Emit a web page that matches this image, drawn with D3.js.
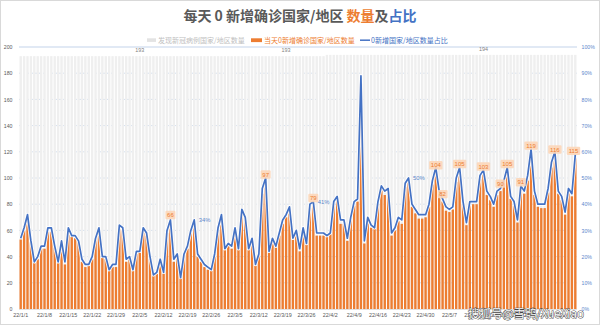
<!DOCTYPE html>
<html><head><meta charset="utf-8">
<script src="https://cdn.jsdelivr.net/npm/d3@7"></script>
<style>body{margin:0;background:#fff}svg{display:block}</style>
</head><body><svg id="c" width="600" height="325"></svg>
<script>
const startDate = "2022-01-01";
// 当天0新增确诊国家/地区数量
const counts = [53,60,70,51,35,38,46,46,59,59,47,35,51,34,59,55,54,51,36,32,
33,38,53,59,39,38,29,32,32,61,60,36,38,29,42,43,60,56,38,26,
27,36,27,58,66,36,41,24,41,46,58,65,40,36,32,30,29,40,60,70,
45,48,46,59,45,73,68,45,52,33,41,88,97,43,52,47,56,65,70,75,
53,58,44,60,49,77,79,56,56,56,55,57,80,83,65,65,52,68,79,82,
172,50,68,62,61,80,92,87,90,56,60,67,65,93,97,78,73,69,69,70,
78,95,104,88,82,75,74,76,97,105,80,64,79,80,80,99,103,87,83,78,
87,90,96,105,84,79,66,91,88,98,119,87,78,77,77,89,108,116,88,83,
72,89,86,115];
// 0新增国家/地区数量占比 (%)
const sharePct = [27,31,36,26,18,20,24,24,31,31,24,18,26,18,31,28,28,26,19,17,
17,20,27,31,20,20,15,17,17,32,31,19,20,15,22,22,31,29,20,13,
14,19,14,30,34,19,21,12,21,24,30,34,21,19,17,16,15,21,31,36,
23,25,24,31,23,38,35,23,27,17,21,46,50,22,27,24,29,34,36,39,
27,30,23,31,25,40,41,29,29,29,28,29,41,43,34,34,27,35,41,42,
89,26,35,32,31,41,47,45,46,29,31,35,34,48,50,40,38,36,36,36,
40,49,54,45,42,39,38,39,50,54,41,33,41,41,41,51,53,45,43,40,
45,46,49,54,43,41,34,47,45,51,61,45,40,40,40,46,56,60,45,43,
37,46,44,59];
// 发现新冠病例国家/地区数量
const totalCountries = [...Array(90).fill(193), ...Array(74).fill(194)];
const tickLabels = ["22/1/1","22/1/8","22/1/15","22/1/22","22/1/29","22/2/5","22/2/12","22/2/19",
"22/2/26","22/3/5","22/3/12","22/3/19","22/3/26","22/4/2","22/4/9","22/4/16","22/4/23","22/4/30",
"22/5/7","22/5/14","22/5/21","22/5/28","22/6/4","22/6/11"];
const leftTicks = [0,20,40,60,80,100,120,140,160,180,200];
const rightTicks = [0,10,20,30,40,50,60,70,80,90,100];
const countLabelIdx = [44,72,86,122,124,129,136,141,143,147,150,157,163];
const shareLabelIdx = [51,86,114];
const totalLabelIdx = [35,78,136];

const ORANGE = "#ed7d31", BLUE = "#4472c4", GRAY_TXT = "#595959";
const CJK = "'Noto Sans CJK SC','Noto Sans',sans-serif";
const NUM = "'Liberation Sans',Arial,sans-serif";

const svg = d3.select("#c");
svg.append("rect").attr("x",0.5).attr("y",0.5).attr("width",599).attr("height",324)
  .attr("fill","#fff").attr("stroke","#d9d9d9");

const parse = d3.timeParse("%Y-%m-%d");
const days = d3.range(counts.length);
const dates = days.map(i => d3.timeDay.offset(parse(startDate), i));
const fmt = d => `${d.getFullYear()%100}/${d.getMonth()+1}/${d.getDate()}`;

const x = d3.scaleBand().domain(days).range([19, 577]).paddingInner(0.3).paddingOuter(0.15);
const cx = i => x(i) + x.bandwidth()/2;
const y = d3.scaleLinear().domain([0,200]).range([309,47]);
const y2 = d3.scaleLinear().domain([0,100]).range([309,47]);

// gridlines
svg.append("g").selectAll("line").data(leftTicks.filter(t => t>0 && t<200)).join("line")
  .attr("x1",19).attr("x2",577).attr("y1",d=>y(d)).attr("y2",d=>y(d))
  .attr("stroke","#c6d5ea").attr("stroke-width",0.8).attr("stroke-dasharray","2,2");
svg.append("line").attr("x1",19).attr("x2",577).attr("y1",y(200)).attr("y2",y(200))
  .attr("stroke","#c3d3ea").attr("stroke-width",1);

// background totals bars
svg.append("g").selectAll("rect").data(days).join("rect")
  .attr("x",i=>x(i)).attr("width",x.bandwidth())
  .attr("y",i=>y(totalCountries[i])).attr("height",i=>y(0)-y(totalCountries[i]))
  .attr("fill","#efefef");

// orange bars
svg.append("g").selectAll("rect").data(days).join("rect")
  .attr("x",i=>x(i)).attr("width",x.bandwidth())
  .attr("y",i=>y(counts[i])).attr("height",i=>y(0)-y(counts[i]))
  .attr("fill",ORANGE);

svg.append("line").attr("x1",19).attr("x2",577).attr("y1",309.5).attr("y2",309.5)
  .attr("stroke","#d9d9d9").attr("stroke-width",0.8);

// share line
const line = d3.line().x(cx).y(i=>y2(sharePct[i]));
svg.append("path").datum(days).attr("d",line).attr("fill","none")
  .attr("stroke","#fff").attr("stroke-width",3.4).attr("stroke-linejoin","round").attr("opacity",0.9);
svg.append("path").datum(days).attr("d",line).attr("fill","none")
  .attr("stroke",BLUE).attr("stroke-width",1.7).attr("stroke-linejoin","round");

// left axis
const gl = svg.append("g").attr("transform","translate(13,0)")
  .call(d3.axisLeft(y).tickValues(leftTicks).tickSize(0).tickPadding(0.5));
gl.select(".domain").remove();
gl.selectAll("text").attr("font-size",5.2).attr("font-family",NUM).attr("fill",GRAY_TXT);

// right axis
const gr = svg.append("g").attr("transform","translate(581,0)")
  .call(d3.axisRight(y2).tickValues(rightTicks).tickFormat(d=>d+"%").tickSize(0).tickPadding(0.5));
gr.select(".domain").remove();
gr.selectAll("text").attr("font-size",5.2).attr("font-family",NUM).attr("fill","#5b87cc");

// bottom axis
const tickIdx = days.filter(i => tickLabels.includes(fmt(dates[i])));
const gb = svg.append("g").attr("transform","translate(0,312)")
  .call(d3.axisBottom(x).tickValues(tickIdx).tickFormat(i=>fmt(dates[i])).tickSize(0).tickPadding(1.5));
gb.select(".domain").remove();
gb.selectAll("text").attr("font-size",5.4).attr("font-family",NUM).attr("fill",GRAY_TXT);

// total labels
svg.append("g").selectAll("text").data(totalLabelIdx).join("text")
  .attr("x",cx).attr("y",i=>y(totalCountries[i])-4.2).attr("text-anchor","middle")
  .attr("font-size",5.4).attr("font-family",NUM).attr("fill","#7f7f7f")
  .text(i=>totalCountries[i]);

// count labels
const cl = svg.append("g").selectAll("g").data(countLabelIdx).join("g")
  .attr("transform",i=>`translate(${Math.min(cx(i),573.5)},${y(counts[i])-7.5})`);
cl.append("rect").attr("x",i=>-(String(counts[i]).length*1.7+1.6)).attr("y",-4.2)
  .attr("width",i=>String(counts[i]).length*3.4+3.2).attr("height",8.4).attr("rx",1.2)
  .attr("fill","#fcd6b8").attr("opacity",0.9);
cl.append("text").attr("text-anchor","middle").attr("y",2.1)
  .attr("font-size",6).attr("font-family",NUM).attr("fill",ORANGE).text(i=>counts[i]);

// share labels
svg.append("g").selectAll("text").data(shareLabelIdx).join("text")
  .attr("x",i=>cx(i)+4.5).attr("y",i=>y2(sharePct[i])+2)
  .attr("font-size",5.8).attr("font-family",NUM).attr("fill","#5b87cc")
  .text(i=>sharePct[i]+"%");

// title
const title = svg.append("text").attr("x",300).attr("y",21).attr("text-anchor","middle")
  .attr("font-size",14).attr("font-weight","bold").attr("font-family",CJK).attr("fill",GRAY_TXT);
title.append("tspan").text("每天 0 新增确诊国家/地区 ");
title.append("tspan").attr("fill",ORANGE).text("数量");
title.append("tspan").text("及");
title.append("tspan").attr("fill",BLUE).text("占比");

// legend
const lg = svg.append("g").attr("font-family",CJK).attr("font-size",7);
lg.append("rect").attr("x",147).attr("y",38.3).attr("width",9).attr("height",3.6).attr("fill","#e3e3e3");
lg.append("text").attr("x",158).attr("y",42.5).attr("fill","#c0c0c0").text("发现新冠病例国家/地区数量");
lg.append("rect").attr("x",251).attr("y",38.3).attr("width",11).attr("height",3.8).attr("fill",ORANGE);
lg.append("text").attr("x",264).attr("y",42.5).attr("fill",ORANGE).text("当天0新增确诊国家/地区数量");
lg.append("line").attr("x1",360).attr("x2",370).attr("y1",40.2).attr("y2",40.2).attr("stroke",BLUE).attr("stroke-width",1.5);
lg.append("text").attr("x",371).attr("y",42.5).attr("fill",BLUE).text("0新增国家/地区数量占比");

// watermark
svg.append("text").attr("x",468).attr("y",317.5).attr("font-size",11.5).attr("font-family",CJK)
  .attr("fill","#fff").attr("stroke","#444").attr("stroke-width",0.9).attr("paint-order","stroke")
  .text("搜狐号@雪鸮/XueXiao");
</script></body></html>
